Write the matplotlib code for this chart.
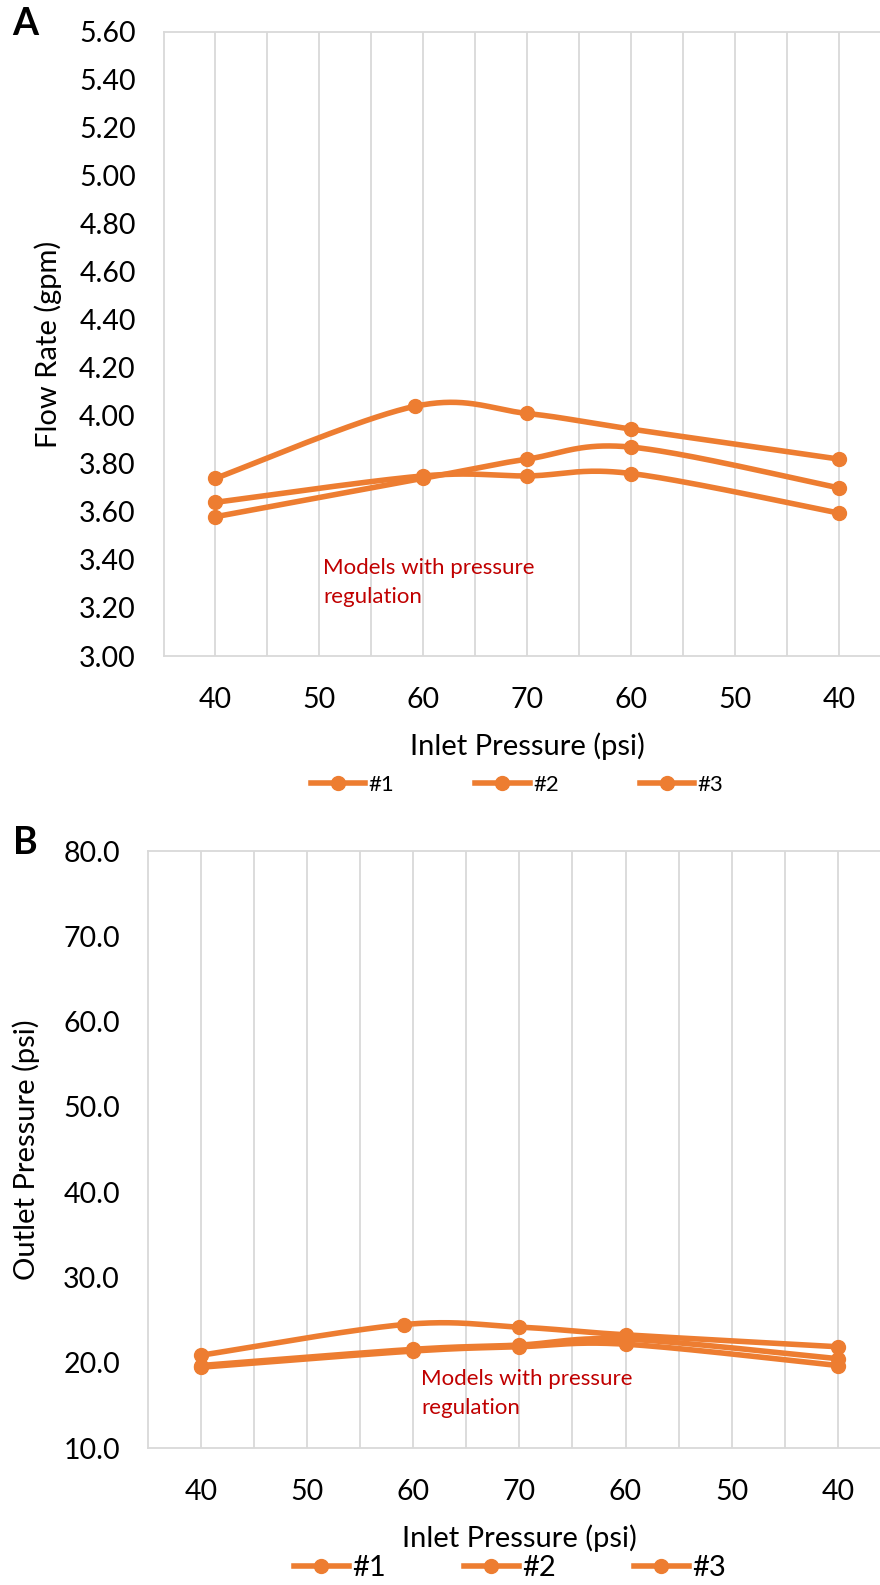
import numpy as np
import matplotlib
matplotlib.use("Agg")
import matplotlib.pyplot as plt
from matplotlib.lines import Line2D

plt.rcParams['font.family'] = ['Lato', 'DejaVu Sans']

# ---------------- data ----------------
x_labels = ["40", "50", "60", "70", "60", "50", "40"]
series_names = ["#1", "#2", "#3"]

# Panel A: flow rate (gpm)
a_x1 = [1.0, 2.92, 4.0, 5.0, 7.0]
a_y1 = [3.74, 4.04, 4.01, 3.945, 3.82]
a_x2 = [1.0, 3.0, 4.0, 5.0, 7.0]
a_y2 = [3.58, 3.74, 3.82, 3.87, 3.70]
a_x3 = [1.0, 3.0, 4.0, 5.0, 7.0]
a_y3 = [3.64, 3.75, 3.75, 3.76, 3.595]

# Panel B: outlet pressure (psi)
b_x1 = [1.0, 2.91, 4.0, 5.0, 7.0]
b_y1 = [20.9, 24.5, 24.2, 23.3, 21.9]
b_x2 = [1.0, 3.0, 4.0, 5.0, 7.0]
b_y2 = [19.7, 21.6, 22.1, 22.8, 20.5]
b_x3 = [1.0, 3.0, 4.0, 5.0, 7.0]
b_y3 = [19.5, 21.4, 21.9, 22.2, 19.7]

a_yticks = [3.0, 3.2, 3.4, 3.6, 3.8, 4.0, 4.2, 4.4, 4.6, 4.8, 5.0, 5.2, 5.4, 5.6]
b_yticks = [10, 20, 30, 40, 50, 60, 70, 80]

ORANGE = "#ED7D31"
GRID = "#D9D9D9"
RED = "#C00000"

W, H = 880, 1585
TICK_FS = 20.5
LABEL_FS = 21


def smooth(xs, ys, n=40):
    """Excel-like smoothed line (Catmull-Rom style cubic Bezier)."""
    p = np.column_stack([xs, ys]).astype(float)
    out = []
    m = len(p)
    for i in range(m - 1):
        p0 = p[i - 1] if i > 0 else p[i]
        p1 = p[i]
        p2 = p[i + 1]
        p3 = p[i + 2] if i + 2 < m else p[i + 1]
        c1 = p1 + (p2 - p0) / 6.0
        c2 = p2 - (p3 - p1) / 6.0
        t = np.linspace(0, 1, n)[:, None]
        seg = ((1 - t) ** 3) * p1 + 3 * ((1 - t) ** 2) * t * c1 + 3 * (1 - t) * t ** 2 * c2 + t ** 3 * p2
        out.append(seg if i == 0 else seg[1:])
    arr = np.vstack(out)
    return arr[:, 0], arr[:, 1]


def fx(px):
    return px / W


def fy(py):
    return 1 - py / H


fig = plt.figure(figsize=(W / 100, H / 100), dpi=100)
fig.patch.set_facecolor("white")


def make_panel(rect_px, ylim, yticks, yfmt, series):
    left, top, right, bottom = rect_px
    ax = fig.add_axes([fx(left), fy(bottom), (right - left) / W, (bottom - top) / H])
    ax.set_xlim(0.5, 7.5)
    ax.set_ylim(*ylim)
    for sx, sy in series:
        xs, ys = smooth(sx, sy)
        ax.plot(xs, ys, color=ORANGE, lw=4.0, solid_capstyle='round', zorder=3)
        ax.plot(sx, sy, 'o', color=ORANGE, ms=10, zorder=4)
    ax.set_xticks(range(1, 8))
    ax.set_xticklabels(x_labels)
    ax.set_xticks(np.arange(1, 7.01, 0.5), minor=True)
    ax.grid(which='minor', axis='x', color=GRID, lw=1.3, zorder=0)
    ax.grid(which='major', axis='x', color=GRID, lw=1.3, zorder=0)
    ax.set_yticks(yticks)
    ax.set_yticklabels([yfmt.format(v) for v in yticks])
    ax.tick_params(axis='both', which='both', length=0, labelsize=TICK_FS, colors='black')
    ax.tick_params(axis='x', pad=22)
    ax.tick_params(axis='y', pad=20)
    for s in ax.spines.values():
        s.set_color(GRID)
        s.set_linewidth(1.3)
    return ax


axA = make_panel((163.5, 31.7, 891, 656), (3.0, 5.6), a_yticks, "{:.2f}",
                 [(a_x1, a_y1), (a_x2, a_y2), (a_x3, a_y3)])
axB = make_panel((147.7, 851, 891, 1448.3), (10, 80), b_yticks, "{:.1f}",
                 [(b_x1, b_y1), (b_x2, b_y2), (b_x3, b_y3)])

# panel letters
fig.text(fx(25), fy(24), "A", fontsize=27, fontweight='bold', ha='center', va='center')
fig.text(fx(25), fy(843), "B", fontsize=27, fontweight='bold', ha='center', va='center')

# axis titles
fig.text(fx(527), fy(746), "Inlet Pressure (psi)", fontsize=LABEL_FS, ha='center', va='center')
fig.text(fx(519), fy(1538), "Inlet Pressure (psi)", fontsize=LABEL_FS, ha='center', va='center')
fig.text(fx(48), fy(344), "Flow Rate (gpm)", fontsize=LABEL_FS, rotation=90, ha='center', va='center')
fig.text(fx(26), fy(1150), "Outlet Pressure (psi)", fontsize=LABEL_FS, rotation=90, ha='center', va='center')

# annotations
fig.text(fx(323), fy(568), "Models with pressure", fontsize=16, color=RED, ha='left', va='center')
fig.text(fx(323), fy(597), "regulation", fontsize=16, color=RED, ha='left', va='center')
fig.text(fx(421), fy(1379), "Models with pressure", fontsize=16, color=RED, ha='left', va='center')
fig.text(fx(421), fy(1408), "regulation", fontsize=16, color=RED, ha='left', va='center')

# legends
handles = [Line2D([], [], color=ORANGE, lw=4.0, marker='o', ms=10) for _ in series_names]
fig.legend(handles, series_names, loc='center', bbox_to_anchor=(fx(517), fy(785)), ncol=3,
           frameon=False, fontsize=16, handlelength=2.45, handletextpad=0.15, columnspacing=3.65,
           borderaxespad=0, borderpad=0)
fig.legend(handles, series_names, loc='center', bbox_to_anchor=(fx(510), fy(1568)), ncol=3,
           frameon=False, fontsize=21, handlelength=1.9, handletextpad=0.12, columnspacing=2.65,
           borderaxespad=0, borderpad=0)

fig.savefig("out.png", dpi=100, facecolor="white")
